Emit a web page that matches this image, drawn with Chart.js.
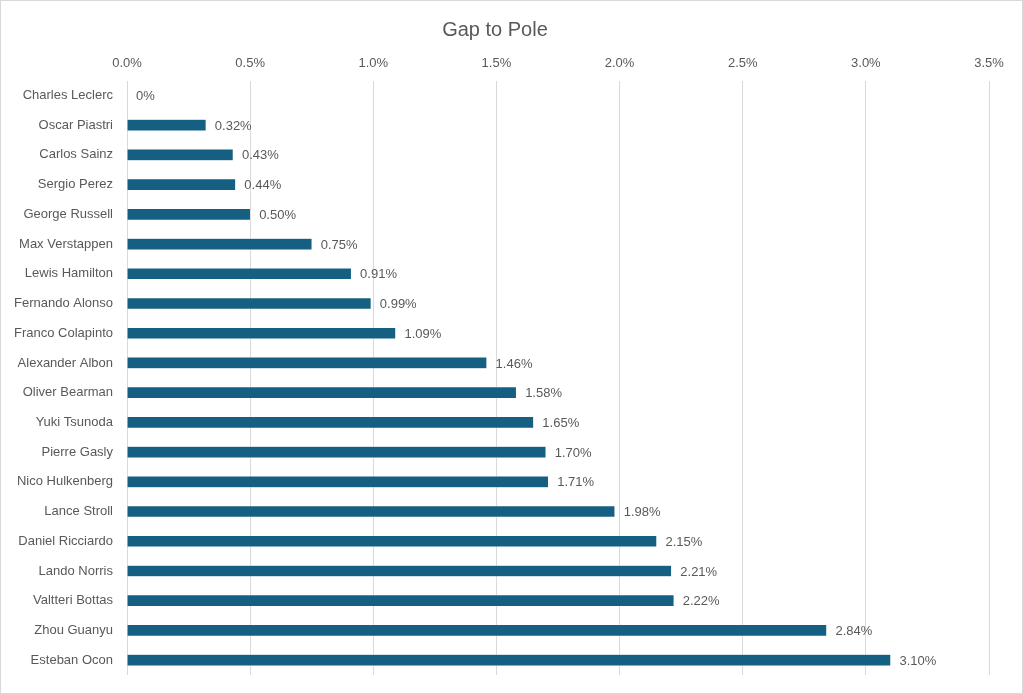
<!DOCTYPE html>
<html>
<head>
<meta charset="utf-8">
<script src="https://cdn.jsdelivr.net/npm/chart.js@4.4.1/dist/chart.umd.min.js"></script>
<style>
    body { margin: 0; background: #fff; }
    #wrap { width: 1023px; height: 694px; box-sizing: border-box; border: 1px solid #d9d9d9; }
</style>
</head>
<body>
<div id="wrap"><canvas id="gapChart"></canvas></div>
<script>
var drivers = [
    "Charles Leclerc", "Oscar Piastri", "Carlos Sainz", "Sergio Perez", "George Russell",
    "Max Verstappen", "Lewis Hamilton", "Fernando Alonso", "Franco Colapinto", "Alexander Albon",
    "Oliver Bearman", "Yuki Tsunoda", "Pierre Gasly", "Nico Hulkenberg", "Lance Stroll",
    "Daniel Ricciardo", "Lando Norris", "Valtteri Bottas", "Zhou Guanyu", "Esteban Ocon"
];
var gaps = [0, 0.32, 0.43, 0.44, 0.50, 0.75, 0.91, 0.99, 1.09, 1.46,
            1.58, 1.65, 1.70, 1.71, 1.98, 2.15, 2.21, 2.22, 2.84, 3.10];
var tickLabels = ["0.0%", "0.5%", "1.0%", "1.5%", "2.0%", "2.5%", "3.0%", "3.5%"];

var textGray = "#595959";
var fontFamily = "'Liberation Sans', Arial, sans-serif";

// draws the value next to every bar
var valueLabels = {
    id: 'valueLabels',
    afterDatasetsDraw: function(chart) {
        var ctx = chart.ctx;
        var meta = chart.getDatasetMeta(0);
        ctx.save();
        ctx.font = "13px " + fontFamily;
        ctx.fillStyle = textGray;
        ctx.textBaseline = 'middle';
        meta.data.forEach(function(bar, i) {
            var v = gaps[i];
            var txt = v === 0 ? "0%" : v.toFixed(2) + "%";
            ctx.fillText(txt, bar.x + 9, bar.y + 1);
        });
        ctx.restore();
    }
};

var ctx = document.querySelector("#gapChart").getContext("2d");
var gapChart = new Chart(ctx, {
    type: 'bar',
    data: {
        labels: drivers,
        datasets: [{
            label: "Gap to Pole",
            data: gaps,
            backgroundColor: "#156082",
            borderColor: "rgba(255,255,255,0.5)",
            borderWidth: 0.5,
            barThickness: 11
        }]
    },
    options: {
        indexAxis: 'y',
        responsive: true,
        maintainAspectRatio: false,
        animation: false,
        layout: { padding: { left: 0, right: 33, bottom: 18 } },
        plugins: {
            legend: { display: false },
            tooltip: { enabled: false },
            title: {
                display: true,
                text: "Gap to Pole",
                color: textGray,
                font: { size: 20, family: fontFamily, weight: 'normal' },
                padding: { top: 17, bottom: 5 }
            }
        },
        scales: {
            x: {
                position: 'top',
                min: 0,
                max: 3.5,
                ticks: {
                    stepSize: 0.5,
                    color: textGray,
                    font: { size: 13, family: fontFamily },
                    padding: 9,
                    callback: function(value, index) { return tickLabels[index]; }
                },
                grid: { color: "#d9d9d9", drawTicks: false },
                border: { display: false }
            },
            y: {
                ticks: {
                    color: textGray,
                    font: { size: 13, family: fontFamily },
                    padding: 6
                },
                grid: { display: false },
                border: { display: false },
                afterFit: function(scale) { scale.width = 126; }
            }
        }
    },
    plugins: [valueLabels]
});
</script>
</body>
</html>
